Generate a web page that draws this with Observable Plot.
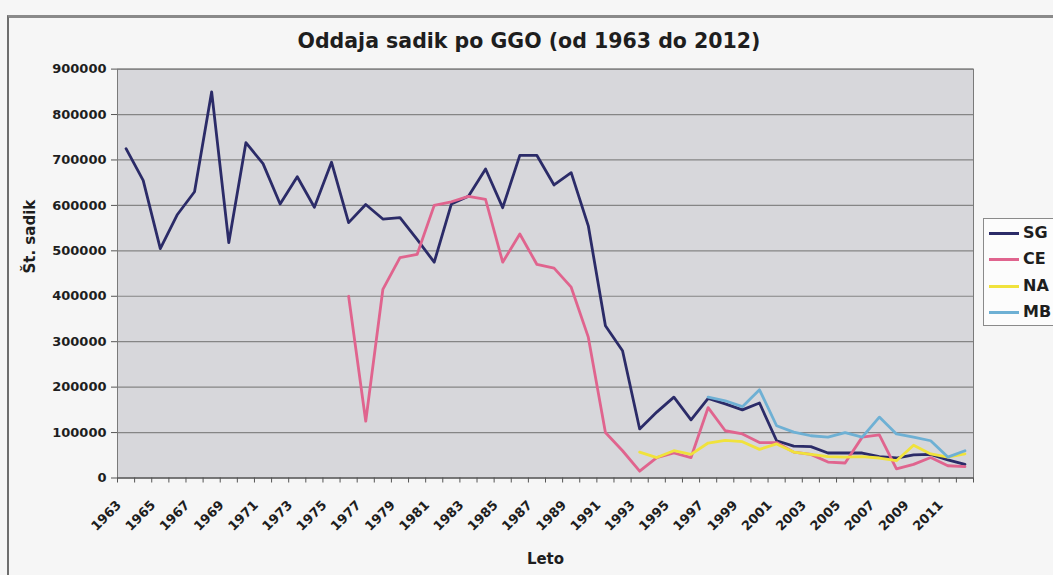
<!DOCTYPE html>
<html><head><meta charset="utf-8">
<script src="https://cdn.jsdelivr.net/npm/d3@7"></script>
<script src="https://cdn.jsdelivr.net/npm/@observablehq/plot@0.6"></script>
<style>
body{margin:0;background:#f6f6f6;font-family:"DejaVu Sans",sans-serif;}
#wrap{position:relative;width:1053px;height:575px;overflow:hidden;}
#border{position:absolute;left:7px;top:15px;width:1100px;height:600px;border-left:2px solid #6e6e6e;border-top:3px solid #8a8a8a;}
#title{position:absolute;left:529px;top:29px;transform:translateX(-50%);white-space:nowrap;font-weight:bold;font-size:20.5px;color:#1e1e1e;line-height:24px;}
#legend{position:absolute;left:983px;top:218px;width:90px;height:106px;border:1px solid #8a8a8a;background:#fcfcfc;}
.item{position:absolute;left:5px;height:20px;font-weight:bold;font-size:16px;color:#1e1e1e;line-height:20px;}
.item span.sw{position:absolute;left:0;top:9px;width:30px;height:3px;}
.item span.lb{position:absolute;left:34px;top:0;}
#chart{position:absolute;left:0;top:0;}
</style></head>
<body><div id="wrap"><div id="border"></div><div id="chart"></div>
<div id="title">Oddaja sadik po GGO (od 1963 do 2012)</div>
<div id="legend"></div></div>
<script>
const years = [1963,1964,1965,1966,1967,1968,1969,1970,1971,1972,1973,1974,1975,1976,1977,1978,1979,1980,1981,1982,1983,1984,1985,1986,1987,1988,1989,1990,1991,1992,1993,1994,1995,1996,1997,1998,1999,2000,2001,2002,2003,2004,2005,2006,2007,2008,2009,2010,2011,2012];
const SG = [725000,655000,505000,580000,630000,850000,518000,738000,692000,603000,663000,596000,695000,562000,602000,570000,573000,525000,475000,603000,620000,680000,595000,710000,710000,645000,672000,555000,335000,280000,108000,145000,178000,128000,175000,163000,150000,165000,82000,70000,69000,55000,55000,55000,47000,44000,51000,52000,40000,30000];
const CE = [null,null,null,null,null,null,null,null,null,null,null,null,null,400000,125000,415000,485000,492000,600000,608000,620000,613000,475000,537000,470000,462000,420000,310000,100000,60000,15000,45000,55000,45000,155000,104000,97000,78000,78000,57000,52000,35000,33000,90000,95000,20000,30000,45000,27000,25000];
const NA = [null,null,null,null,null,null,null,null,null,null,null,null,null,null,null,null,null,null,null,null,null,null,null,null,null,null,null,null,null,null,57000,45000,60000,52000,77000,83000,80000,63000,75000,57000,52000,47000,46000,47000,44000,38000,72000,53000,46000,53000];
const MB = [null,null,null,null,null,null,null,null,null,null,null,null,null,null,null,null,null,null,null,null,null,null,null,null,null,null,null,null,null,null,null,null,null,null,178000,170000,157000,194000,115000,101000,93000,90000,100000,90000,134000,97000,90000,82000,46000,60000];
const yTicks = [0,100000,200000,300000,400000,500000,600000,700000,800000,900000];
const seriesNames = ["SG","CE","NA","MB"];
const seriesColors = ["#2b2b68","#e0648e","#f0e23c","#6eb0d4"];
const seriesValues = [SG, CE, NA, MB];

const labelYears = years.filter((y,i)=>i%2===0);
const boundaries = years.map(y=>y-0.5).concat([years[years.length-1]+0.5]);

const lineMarks = seriesValues.map((vals,k)=>{
  const rows = years.map((y,i)=>({year:y, value:vals[i]})).filter(d=>d.value!=null);
  return Plot.line(rows, {x:"year", y:"value", stroke:seriesColors[k], strokeWidth:2.8, strokeLinejoin:"round"});
});

const chart = Plot.plot({
  width:1053, height:575,
  marginLeft:117, marginRight:80, marginTop:68.6, marginBottom:97.5,
  style:{background:"transparent", fontFamily:"DejaVu Sans, sans-serif", color:"#1e1e1e"},
  x:{type:"linear", domain:[years[0]-0.5, years[years.length-1]+0.5]},
  y:{domain:[0,900000]},
  marks:[
    Plot.frame({fill:"#d7d7db", stroke:null}),
    Plot.gridY({ticks:yTicks, stroke:"#858585", strokeOpacity:1, strokeWidth:1.2}),
    Plot.frame({stroke:"#7a7a7a"}),
    Plot.ruleY([0], {stroke:"#555"}),
    Plot.axisY({ticks:yTicks, tickSize:6, tickPadding:5, tickFormat:d=>String(d), fontSize:13, fontWeight:"bold", label:null, stroke:"#555"}),
    Plot.axisX({ticks:boundaries, tickSize:5, tickFormat:()=>"", label:null, stroke:"#555"}),
    Plot.axisX({ticks:labelYears, tickSize:0, tickPadding:25, tickRotate:-45, dx:-7, tickFormat:d=>String(d), fontSize:13, fontWeight:"bold", label:null}),
    ...lineMarks,
    Plot.text(["Št. sadik"], {text:d=>d, frameAnchor:"left", rotate:-90, dx:-87, fontSize:15, fontWeight:"bold"}),
    Plot.text(["Leto"], {text:d=>d, frameAnchor:"bottom", dy:85.5, fontSize:15, fontWeight:"bold"})
  ]
});
document.getElementById("chart").appendChild(chart);

const legend = document.getElementById("legend");
seriesNames.forEach((n,k)=>{
  const it = document.createElement("div");
  it.className = "item";
  it.style.top = (4 + k*26.3) + "px";
  it.innerHTML = `<span class="sw" style="background:${seriesColors[k]}"></span><span class="lb">${n}</span>`;
  legend.appendChild(it);
});
</script></body></html>
